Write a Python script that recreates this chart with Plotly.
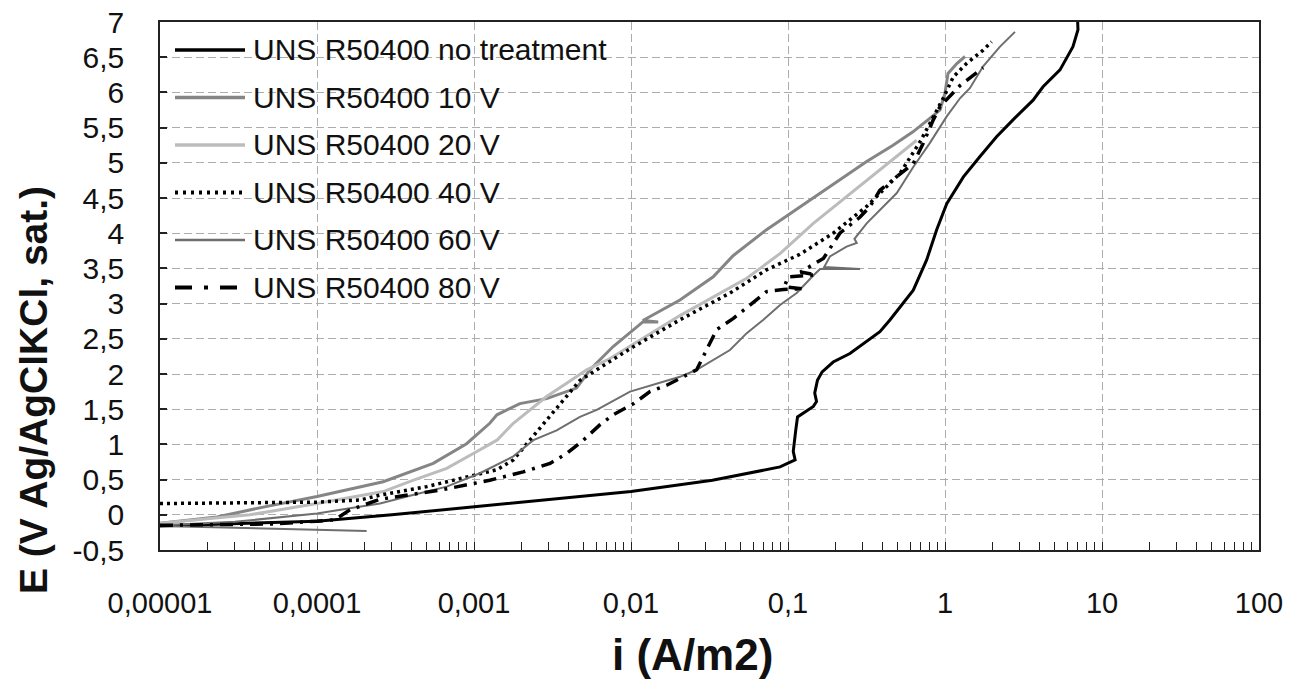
import plotly.graph_objects as go

# ---------------- data ----------------
series_names = [
    "UNS R50400 no treatment",
    "UNS R50400 10 V",
    "UNS R50400 20 V",
    "UNS R50400 40 V",
    "UNS R50400 60 V",
    "UNS R50400 80 V",
]

i_no_treatment = [1e-5, 3e-5, 1e-4, 3e-4, 1e-3, 3e-3, 0.01, 0.033, 0.089, 0.111, 0.108, 0.112,
                  0.115, 0.145, 0.152, 0.148, 0.154, 0.165, 0.194, 0.248, 0.317, 0.385, 0.447,
                  0.628, 0.764, 0.885, 1.026, 1.31, 1.67, 2.13, 2.71, 3.64, 4.21, 5.40, 6.53, 7.03, 7.0]
E_no_treatment = [-0.16, -0.13, -0.09, 0.0, 0.11, 0.21, 0.33, 0.49, 0.68, 0.78, 0.9, 1.2,
                  1.39, 1.54, 1.61, 1.73, 1.91, 2.03, 2.17, 2.29, 2.46, 2.6, 2.77,
                  3.19, 3.62, 4.05, 4.42, 4.80, 5.09, 5.37, 5.61, 5.89, 6.08, 6.32, 6.65, 6.89, 7.0]

i_10V = [1e-5, 2.3e-5, 4.8e-5, 1e-4, 2.64e-4, 5.5e-4, 8.97e-4, 1.26e-3, 1.4e-3, 1.96e-3, 2.9e-3,
         4.5e-3, 5.48e-3, 7.7e-3, 0.0119, 0.0149, 0.0119, 0.0205, 0.0334, 0.0447, 0.073, 0.108,
         0.194, 0.317, 0.467, 0.625, 0.80, 0.93, 1.0, 1.045, 1.19, 1.34]
E_10V = [-0.12, -0.03, 0.12, 0.26, 0.47, 0.73, 1.01, 1.30, 1.42, 1.58, 1.65,
         1.80, 2.06, 2.39, 2.74, 2.74, 2.76, 3.05, 3.38, 3.68, 4.05, 4.31,
         4.70, 5.02, 5.25, 5.44, 5.63, 5.75, 5.99, 6.27, 6.41, 6.51]

i_20V = [1e-5, 3.74e-5, 1e-4, 2.64e-4, 4.08e-4, 6.7e-4, 9.9e-4, 1.4e-3, 1.78e-3, 2.27e-3, 2.9e-3,
         3.89e-3, 5.22e-3, 7.35e-3, 0.0205, 0.0546, 0.089, 0.145, 0.236, 0.385, 0.66]
E_20V = [-0.12, 0.0, 0.16, 0.33, 0.49, 0.66, 0.87, 1.06, 1.30, 1.49, 1.68,
         1.87, 2.06, 2.22, 2.83, 3.36, 3.71, 4.14, 4.52, 4.90, 5.32]

i_40V = [1e-5, 1e-4, 1.88e-4, 2.52e-4, 5.0e-4, 8.5e-4, 1.4e-3, 1.78e-3, 2.27e-3, 2.9e-3, 3.7e-3,
         4.73e-3, 7.0e-3, 0.0104, 0.0205, 0.0427, 0.073, 0.119, 0.194, 0.317, 0.517, 0.694,
         0.842, 0.975, 1.13, 1.37, 1.75, 1.98]
E_40V = [0.16, 0.18, 0.21, 0.28, 0.40, 0.52, 0.64, 0.78, 1.06, 1.35, 1.63,
         1.91, 2.15, 2.39, 2.77, 3.15, 3.48, 3.70, 4.0, 4.38, 4.85, 5.30,
         5.65, 5.92, 6.22, 6.41, 6.60, 6.72]

i_60V = [2.07e-4, 4.8e-5, 1e-5, 1.2e-5, 3e-5, 1e-4, 2.52e-4, 4.08e-4, 6.7e-4, 1.09e-3, 1.78e-3,
         2.39e-3, 3.36e-3, 4.73e-3, 6.05e-3, 9.86e-3, 0.0126, 0.0205, 0.0262, 0.0334, 0.0427,
         0.0546, 0.0697, 0.089, 0.1136, 0.145, 0.16, 0.288, 0.17, 0.185, 0.236, 0.274, 0.265,
         0.317, 0.385, 0.493, 0.628, 0.80, 1.026, 1.25, 1.44, 1.75, 2.24, 2.79]
E_60V = [-0.23, -0.20, -0.16, -0.14, -0.10, 0.02, 0.16, 0.28, 0.40, 0.59, 0.83,
         1.06, 1.20, 1.39, 1.49, 1.75, 1.82, 1.96, 2.06, 2.20, 2.34,
         2.58, 2.77, 2.98, 3.15, 3.40, 3.49, 3.49, 3.52, 3.67, 3.81, 3.86, 3.92,
         4.14, 4.33, 4.57, 4.94, 5.28, 5.66, 5.92, 6.06, 6.37, 6.65, 6.86]

i_80V = [1e-5, 5.2e-5, 1e-4, 1.3e-4, 1.62e-4, 2.52e-4, 6.07e-4, 1.26e-3, 2.06e-3, 3.05e-3, 3.89e-3,
         4.97e-3, 6.35e-3, 7.7e-3, 0.0104, 0.0132, 0.0169, 0.0262, 0.0289, 0.0351, 0.0449,
         0.0573, 0.073, 0.0933, 0.125, 0.095, 0.10, 0.15, 0.12, 0.168, 0.214, 0.288, 0.333,
         0.385, 0.493, 0.628, 0.728, 0.842, 0.93, 1.25, 1.75]
E_80V = [-0.15, -0.13, -0.09, -0.07, 0.07, 0.22, 0.35, 0.49, 0.61, 0.73, 0.87,
         1.06, 1.28, 1.42, 1.58, 1.75, 1.84, 2.06, 2.25, 2.63, 2.79,
         2.98, 3.17, 3.20, 3.21, 3.24, 3.38, 3.41, 3.45, 3.64, 4.0, 4.23, 4.38,
         4.61, 4.80, 4.99, 5.28, 5.61, 5.80, 6.1, 6.35]

x_tick_vals = [1e-5, 1e-4, 1e-3, 1e-2, 1e-1, 1, 10, 100]
x_tick_text = ["0,00001", "0,0001", "0,001", "0,01", "0,1", "1", "10", "100"]
y_tick_vals = [-0.5, 0, 0.5, 1, 1.5, 2, 2.5, 3, 3.5, 4, 4.5, 5, 5.5, 6, 6.5, 7]
y_tick_text = ["-0,5", "0", "0,5", "1", "1,5", "2", "2,5", "3", "3,5", "4", "4,5",
               "5", "5,5", "6", "6,5", "7"]

x_title = "i (A/m2)"
y_title = "E (V Ag/AgClKCl, sat.)"

# ---------------- styling ----------------
FONT = "Liberation Sans, Arial, sans-serif"
colors = ["#000000", "#858585", "#bcbcbc", "#000000", "#6e6e6e", "#000000"]
widths = [3, 3, 3, 3.5, 2, 3.5]
dashes = ["solid", "solid", "solid", "3px,4px", "solid", "13px,7px,3px,7px"]
legend_dashes = ["solid", "solid", "solid", "3px,5px", "solid", "17px,12px,4px,12px"]

xs = [i_no_treatment, i_10V, i_20V, i_40V, i_60V, i_80V]
ys = [E_no_treatment, E_10V, E_20V, E_40V, E_60V, E_80V]

fig = go.Figure()
for name, x, y, c, w, d in zip(series_names, xs, ys, colors, widths, dashes):
    fig.add_trace(go.Scatter(x=x, y=y, mode="lines", name=name, showlegend=False,
                             line=dict(color=c, width=w, dash=d)))

# plot area in pixels: left 160, right 1259, top 22, bottom 550
L, R, T, B = 160, 1259, 22, 550
W, H = R - L, B - T


def px(xp):
    return (xp - L) / W


def py(yp):
    return (B - yp) / H


# custom legend (long line samples as in reference)
shapes = []
annotations = []
for k, (name, c, w, d) in enumerate(zip(series_names, colors, widths, legend_dashes)):
    yc = 50 + 47.5 * k
    shapes.append(dict(type="line", xref="paper", yref="paper",
                       x0=px(175), x1=px(245), y0=py(yc), y1=py(yc),
                       line=dict(color=c, width=w + 0.5, dash=d)))
    annotations.append(dict(text=name, xref="paper", yref="paper", x=px(251), y=py(yc),
                            xanchor="left", yanchor="middle", showarrow=False,
                            font=dict(family=FONT, size=30, color="#111111")))

annotations.append(dict(text="<b>" + x_title + "</b>", xref="paper", yref="paper",
                        x=px(692), y=py(655), xanchor="center", yanchor="middle",
                        showarrow=False, font=dict(family=FONT, size=44, color="#111111")))
annotations.append(dict(text="<b>" + y_title + "</b>", xref="paper", yref="paper",
                        x=px(33), y=py(390), xanchor="center", yanchor="middle",
                        textangle=-90, showarrow=False,
                        font=dict(family=FONT, size=39, color="#111111")))

grid_color = "#acacac"
fig.update_layout(
    width=1296, height=679, autosize=False,
    margin=dict(l=L, r=1296 - R, t=T, b=679 - B, pad=0),
    paper_bgcolor="white", plot_bgcolor="white",
    font=dict(family=FONT, color="#111111"),
    shapes=shapes, annotations=annotations,
    xaxis=dict(type="log", range=[-5, 2], tickvals=x_tick_vals, ticktext=x_tick_text,
               automargin=False,
               ticks="inside", ticklen=8, tickcolor="#222222", tickwidth=1,
               showline=True, linecolor="#222222", linewidth=1.5, mirror=True,
               showgrid=True, gridcolor=grid_color, gridwidth=1, griddash="8px,4px",
               zeroline=False, tickfont=dict(family=FONT, size=29, color="#111111"),
               ticklabelstandoff=26,
               minor=dict(ticks="inside", ticklen=8, tickcolor="#222222", dtick="D1",
                          showgrid=False)),
    yaxis=dict(range=[-0.5, 7], tickvals=y_tick_vals, ticktext=y_tick_text,
               automargin=False,
               ticks="inside", ticklen=7, tickcolor="#222222", tickwidth=1.5,
               showline=True, linecolor="#222222", linewidth=1.5, mirror=True,
               showgrid=True, gridcolor=grid_color, gridwidth=1, griddash="8px,4px",
               zeroline=False, tickfont=dict(family=FONT, size=30, color="#111111"),
               ticklabelstandoff=28),
)

fig.write_html("out.html", config={"displayModeBar": False},
               post_script="document.body.style.margin='0px';")
